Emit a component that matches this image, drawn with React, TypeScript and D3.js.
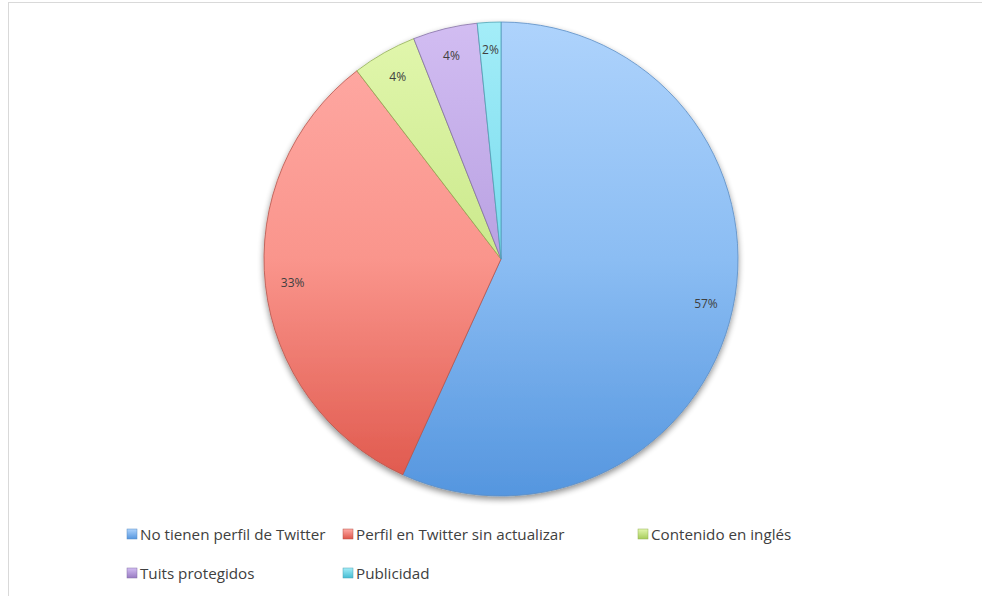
import * as d3 from "d3";

const categories = [
  "No tienen perfil de Twitter",
  "Perfil en Twitter sin actualizar",
  "Contenido en inglés",
  "Tuits protegidos",
  "Publicidad",
];
const values = [56.8, 32.8, 4.4, 4.4, 1.6];
const topColors = ["#aed3fc", "#ffaba6", "#e2f7ae", "#d2bdf2", "#a4edf8"];
const midColors = ["#8bbdf3", "#fa958c", "#cbe98c", "#b9a1e2", "#78dbee"];
const bottomColors = ["#5596df", "#de5549", "#a6cc5a", "#987ac2", "#44bcd3"];
const strokeColors = ["#5a8dc4", "#b8544a", "#93b055", "#8470a6", "#4ea3b5"];

const W = 982;
const H = 596;
const cx = 501;
const cy = 259;
const R = 237;

const legendCols = [127, 343, 638];
const legendRows = [534, 573];

export default function App() {
  const total = d3.sum(values);
  const pie = d3
    .pie<number>()
    .sort(null)
    .value((d) => d);
  const arcs = pie(values);
  const arc = d3.arc<d3.PieArcDatum<number>>().innerRadius(0).outerRadius(R);
  const labelArc = d3
    .arc<d3.PieArcDatum<number>>()
    .innerRadius(R * 0.885)
    .outerRadius(R * 0.885);

  return (
    <svg
      width={W}
      height={H}
      style={{ position: "absolute", left: 0, top: 0, fontFamily: "'Open Sans', sans-serif" }}
    >
      <defs>
        {categories.map((_, i) => (
          <linearGradient
            key={i}
            id={`g${i}`}
            gradientUnits="userSpaceOnUse"
            x1={0}
            y1={-R}
            x2={0}
            y2={R}
          >
            <stop offset="0%" stopColor={topColors[i]} />
            <stop offset="50%" stopColor={midColors[i]} />
            <stop offset="100%" stopColor={bottomColors[i]} />
          </linearGradient>
        ))}
        {categories.map((_, i) => (
          <linearGradient key={`l${i}`} id={`lg${i}`} x1="0" y1="0" x2="0" y2="1">
            <stop offset="0%" stopColor={topColors[i]} />
            <stop offset="100%" stopColor={bottomColors[i]} />
          </linearGradient>
        ))}
        <filter id="shadow" x="-10%" y="-10%" width="120%" height="125%">
          <feGaussianBlur in="SourceAlpha" stdDeviation="3" />
          <feOffset dx="0" dy="3" result="b" />
          <feComponentTransfer>
            <feFuncA type="linear" slope="0.45" />
          </feComponentTransfer>
          <feMerge>
            <feMergeNode />
            <feMergeNode in="SourceGraphic" />
          </feMerge>
        </filter>
      </defs>

      <rect x={8.5} y={2.5} width={W} height={H} fill="#fff" stroke="#d9d9d9" />

      <g transform={`translate(${cx},${cy})`}>
        <g filter="url(#shadow)">
          {arcs.map((a, i) => (
            <path
              key={i}
              d={arc(a) ?? ""}
              fill={`url(#g${i})`}
              stroke={strokeColors[i]}
              strokeWidth={0.8}
              strokeLinejoin="round"
            />
          ))}
        </g>
        {arcs.map((a, i) => {
          const [x, y] = labelArc.centroid(a);
          return (
            <text
              key={`t${i}`}
              x={x}
              y={y}
              textAnchor="middle"
              dominantBaseline="central"
              fontSize={12}
              fill="#404040"
            >
              {`${Math.round((a.data / total) * 100)}%`}
            </text>
          );
        })}
      </g>

      <g>
        {categories.map((c, i) => {
          const x = legendCols[i % 3];
          const y = legendRows[Math.floor(i / 3)];
          return (
            <g key={c}>
              <rect
                x={x}
                y={y - 5}
                width={10}
                height={10}
                fill={`url(#lg${i})`}
                stroke={strokeColors[i]}
                strokeWidth={0.5}
              />
              <text x={x + 13} y={y} dominantBaseline="central" fontSize={15.2} fill="#404040">
                {c}
              </text>
            </g>
          );
        })}
      </g>
    </svg>
  );
}
